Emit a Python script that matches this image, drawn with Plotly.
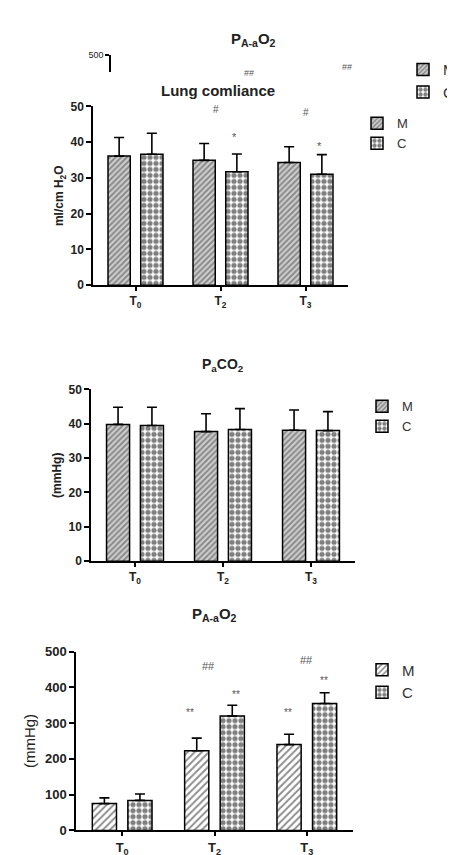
import plotly.graph_objects as go

# ---------------- data ----------------
categories = ["T<sub>0</sub>", "T<sub>2</sub>", "T<sub>3</sub>"]
cats_paco2 = ["T<sub>0</sub>", "T<sub>2</sub>", "T<sub>3</sub>"]

lc_M = [36.1, 34.9, 34.3]
lc_M_sd = [5.2, 4.7, 4.4]
lc_C = [36.6, 31.7, 31.0]
lc_C_sd = [5.9, 5.0, 5.5]

pc_M = [39.8, 37.7, 38.1]
pc_M_sd = [5.0, 5.2, 5.9]
pc_C = [39.5, 38.3, 38.0]
pc_C_sd = [5.3, 6.1, 5.5]

pa_M = [75, 223, 240]
pa_M_sd = [16, 35, 29]
pa_C = [84, 320, 355]
pa_C_sd = [18, 30, 30]

W, H = 455, 855
FONT = "Liberation Sans, Arial, sans-serif"


def px(x):
    return x / W


def py(y):
    return 1 - y / H


fig = go.Figure()

gray_hatch = dict(shape="/", fgcolor="#3c3c3c", bgcolor="#cccccc", size=4, solidity=0.45)
line_hatch = dict(shape="/", fgcolor="#1a1a1a", bgcolor="#ffffff", size=5, solidity=0.38)
checker = dict(shape=".", fgcolor="#000000", bgcolor="#ffffff", size=6, solidity=0.6)


def add_pair(xs, m, msd, c, csd, xa, ya, leg, mpat, show=True):
    zeros = [0] * len(xs)
    fig.add_trace(go.Bar(
        x=xs, y=m, name="M", xaxis=xa, yaxis=ya, legend=leg, showlegend=show,
        marker=dict(color="#d8d8d8", pattern=mpat, line=dict(color="black", width=1.5)),
        error_y=dict(type="data", array=msd, arrayminus=zeros, symmetric=False,
                     color="black", thickness=1.6, width=5),
    ))
    fig.add_trace(go.Bar(
        x=xs, y=c, name="C", xaxis=xa, yaxis=ya, legend=leg, showlegend=show,
        marker=dict(color="white", pattern=checker, line=dict(color="black", width=1.5)),
        error_y=dict(type="data", array=csd, arrayminus=zeros, symmetric=False,
                     color="black", thickness=1.6, width=5),
    ))


# remnant chart (top, mostly hidden)
add_pair(categories, pa_M, pa_M_sd, pa_C, pa_C_sd, "x4", "y4", "legend4", gray_hatch)
# lung compliance
add_pair(categories, lc_M, lc_M_sd, lc_C, lc_C_sd, "x", "y", "legend", gray_hatch)
# PaCO2
add_pair(cats_paco2, pc_M, pc_M_sd, pc_C, pc_C_sd, "x2", "y2", "legend2", gray_hatch)
# PA-aO2
add_pair(categories, pa_M, pa_M_sd, pa_C, pa_C_sd, "x3", "y3", "legend3", line_hatch)


def tfont(size):
    return dict(family=FONT, size=size, color="#222", weight="bold")


def xax(d0, d1, anchor, size=12):
    return dict(domain=[px(d0), px(d1)], anchor=anchor, type="category", range=[-0.5, 2.5],
                showline=True, linecolor="black", linewidth=1.5, ticks="outside",
                ticklen=4, tickwidth=1.5, tickcolor="black", tickfont=tfont(size),
                showgrid=False, zeroline=False, fixedrange=True)


def yax(top, bot, rng, dtick, anchor, title, size=12, tsize=12, standoff=6, bold=True):
    return dict(domain=[py(bot), py(top)], anchor=anchor, range=rng, dtick=dtick,
                showline=True, linecolor="black", linewidth=1.5, ticks="outside",
                ticklen=5, tickwidth=1.5, tickcolor="black", tickfont=tfont(size),
                showgrid=False, zeroline=False,
                title=dict(text=title, standoff=standoff,
                           font=dict(family=FONT, size=tsize, color="#222",
                                     weight="bold" if bold else "normal")))


def legend(x, y, size=13):
    return dict(x=px(x), y=py(y), xanchor="left", yanchor="top", bgcolor="rgba(0,0,0,0)",
                font=dict(family=FONT, size=size, color="#333"), tracegroupgap=0,
                itemwidth=30)


fig.update_layout(
    width=W, height=H, margin=dict(l=0, r=0, t=0, b=0),
    paper_bgcolor="white", plot_bgcolor="rgba(0,0,0,0)",
    barmode="group", bargap=0.23, bargroupgap=0.32,
    xaxis=xax(85, 340, "y"),
    yaxis=yax(93, 275, [0, 50], 10, "x", "ml/cm H<sub>2</sub>O", standoff=4),
    xaxis2=xax(83, 347, "y2"),
    yaxis2=yax(381, 556, [0, 50], 10, "x2", "(mmHg)", standoff=4),
    xaxis3=xax(68, 345, "y3", size=13),
    yaxis3=yax(648, 830, [0, 500], 100, "x3", "(mmHg)", size=13, tsize=15, standoff=6,
               bold=False),
    xaxis4=dict(domain=[px(103), px(380)], anchor="y4", type="category", range=[-0.5, 2.5],
                visible=False),
    yaxis4=dict(domain=[py(58), py(41)], anchor="x4", range=[460, 500], tickvals=[500],
                showline=True, linecolor="black", linewidth=1.5, ticks="outside",
                ticklen=4, tickwidth=1.5, tickcolor="black",
                tickfont=dict(family=FONT, size=9, color="#222"), showgrid=False,
                zeroline=False),
    legend=legend(349, 95),
    legend2=legend(354, 383),
    legend3=legend(354, 650, size=15),
    legend4=legend(395, 39, size=15),
    showlegend=True,
)

ann = []


def text(x, y, s, size=10, xref="paper", yref="paper", bold=False, color="#555"):
    ann.append(dict(x=x, y=y, xref=xref, yref=yref, text=s, showarrow=False,
                    font=dict(family=FONT, size=size, color=color,
                              weight="bold" if bold else "normal")))


# titles
text(px(245), py(13), "P<sub>A-a</sub>O<sub>2</sub>", size=15, bold=True, color="#222")
text(px(210), py(66), "Lung comliance", size=15, bold=True, color="#222")
text(px(215), py(356), "P<sub>a</sub>CO<sub>2</sub>", size=14, bold=True, color="#222")
text(px(206), py(622), "P<sub>A-a</sub>O<sub>2</sub>", size=15, bold=True, color="#222")

# remnant marks
text(px(241), py(52), "##", size=9)
text(px(346), py(46), "##", size=9)

# lung compliance marks
text(0.95, 49.0, "#", xref="x", yref="y")
text(2.0, 48.4, "#", xref="x", yref="y")
text(1.17, 41.5, "*", xref="x", yref="y", size=11)
text(2.16, 39.0, "*", xref="x", yref="y", size=11)

# PA-aO2 marks
text(0.93, 460, "##", xref="x3", yref="y3", size=11)
text(2.0, 478, "##", xref="x3", yref="y3", size=11)
text(0.74, 330, "**", xref="x3", yref="y3", size=10)
text(1.23, 380, "**", xref="x3", yref="y3", size=10)
text(1.80, 330, "**", xref="x3", yref="y3", size=10)
text(2.19, 420, "**", xref="x3", yref="y3", size=10)

fig.update_layout(annotations=ann)

fig.write_html("out.html")
